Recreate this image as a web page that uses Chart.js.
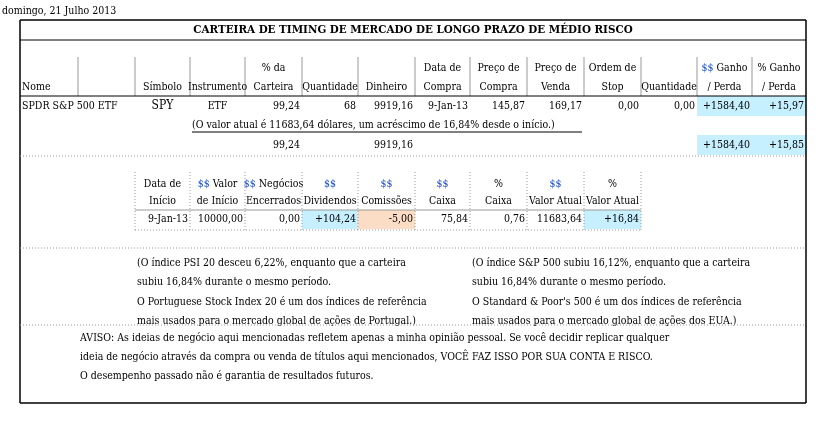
<!DOCTYPE html>
<html><head><meta charset="utf-8">
<script src="https://cdn.jsdelivr.net/npm/chart.js@4.4.0/dist/chart.umd.min.js"></script>
<style>html,body{margin:0;background:#fff}#wrap{width:831px;height:421px}</style>
</head><body><div id="wrap"><canvas id="graph1"></canvas></div>
<script>
// table content
var dateLine = 'domingo, 21 Julho 2013';
var title = 'CARTEIRA DE TIMING DE MERCADO DE LONGO PRAZO DE MÉDIO RISCO';
var headTop = ['', '', '', '', '% da', '', '', 'Data de', 'Preço de', 'Preço de', 'Ordem de', '', '$$ Ganho', '% Ganho'];
var headBottom = ['Nome', '', 'Símbolo', 'Instrumento', 'Carteira', 'Quantidade', 'Dinheiro', 'Compra', 'Compra', 'Venda', 'Stop', 'Quantidade', '/ Perda', '/ Perda'];
var row1 = ['SPDR S&P 500 ETF', '', 'SPY', 'ETF', '99,24', '68', '9919,16', '9-Jan-13', '145,87', '169,17', '0,00', '0,00', '+1584,40', '+15,97'];
var note1 = '(O valor atual é 11683,64 dólares, um acréscimo de 16,84% desde o início.)';
var row3 = ['', '', '', '', '99,24', '', '9919,16', '', '', '', '', '', '+1584,40', '+15,85'];
var head2Top = ['Data de', '$$ Valor', '$$ Negócios', '$$', '$$', '$$', '%', '$$', '%'];
var head2Bottom = ['Início', 'de Início', 'Encerrados', 'Dividendos', 'Comissões', 'Caixa', 'Caixa', 'Valor Atual', 'Valor Atual'];
var row2 = ['9-Jan-13', '10000,00', '0,00', '+104,24', '-5,00', '75,84', '0,76', '11683,64', '+16,84'];
var leftNote = ['(O índice PSI 20 desceu 6,22%, enquanto que a carteira', 'subiu 16,84% durante o mesmo período.', 'O Portuguese Stock Index 20 é um dos índices de referência', 'mais usados para o mercado global de ações de Portugal.)'];
var rightNote = ['(O índice S&P 500 subiu 16,12%, enquanto que a carteira', 'subiu 16,84% durante o mesmo período.', 'O Standard & Poor\'s 500 é um dos índices de referência', 'mais usados para o mercado global de ações dos EUA.)'];
var disclaimer = ['AVISO: As ideias de negócio aqui mencionadas refletem apenas a minha opinião pessoal. Se você decidir replicar qualquer', 'ideia de negócio através da compra ou venda de títulos aqui mencionados, VOCÊ FAZ ISSO POR SUA CONTA E RISCO.', 'O desempenho passado não é garantia de resultados futuros.'];

var colX = [20, 78, 135, 190, 245, 302, 358, 415, 470, 527, 584, 641, 697, 752, 806];
var FONT = '"DejaVu Serif Condensed", "DejaVu Serif", serif';

var tablePlugin = {
  id: 'table',
  afterDraw: function (chart) {
    var c = chart.ctx, sx = chart.scales.x, sy = chart.scales.y;
    function X(v) { return sx.getPixelForValue(v); }
    function Y(v) { return sy.getPixelForValue(v); }
    function line(x1, y1, x2, y2, col, w, dash) {
      c.save(); c.strokeStyle = col; c.lineWidth = w; c.setLineDash(dash || []);
      c.beginPath(); c.moveTo(X(x1), Y(y1)); c.lineTo(X(x2), Y(y2)); c.stroke(); c.restore();
    }
    function fill(x1, y1, x2, y2, col) { c.fillStyle = col; c.fillRect(X(x1), Y(y1), X(x2) - X(x1), Y(y2) - Y(y1)); }
    function text(s, x, y, align, size, bold) {
      c.font = (bold ? 'bold ' : '') + (size || 10.5) + 'px ' + FONT;
      c.textAlign = align || 'left'; c.textBaseline = 'middle';
      if (s.indexOf('$$') === 0) {
        var rest = s.slice(2), w1 = c.measureText('$$').width, w2 = c.measureText(rest).width;
        var start = align === 'center' ? X(x) - (w1 + w2) / 2 : align === 'right' ? X(x) - w1 - w2 : X(x);
        c.textAlign = 'left'; c.fillStyle = '#1f4fd0'; c.fillText('$$', start, Y(y));
        c.fillStyle = '#000'; c.fillText(rest, start + w1, Y(y)); return;
      }
      c.fillStyle = '#000'; c.fillText(s, X(x), Y(y));
    }
    function cell(s, i, y, nAlign) {
      if (!s) return;
      var num = /^[+\-]?[0-9]/.test(s);
      if (num || nAlign === 'right') text(s, colX[i + 1] - 2, y, 'right');
      else if (nAlign === 'left') text(s, colX[i] + 2, y, 'left');
      else text(s, (colX[i] + colX[i + 1]) / 2, y, 'center');
    }
    var dot = [1, 2], G = '#999';
    // highlights
    [[12, 96, 116], [13, 96, 116], [12, 135, 155], [13, 135, 155]].forEach(function (h) { fill(colX[h[0]], h[1], colX[h[0] + 1], h[2], '#c6efff'); });
    fill(colX[5], 210, colX[6], 229, '#c6efff'); fill(colX[6], 210, colX[7], 229, '#fbdcc5'); fill(colX[10], 210, colX[11], 229, '#c6efff');
    text(dateLine, 2, 11, 'left', 10.5);
    // outer box
    line(20, 20, 806, 20, '#000', 1.5); line(20, 403, 806, 403, '#000', 1.5);
    line(20, 20, 20, 403, '#000', 1.5); line(806, 20, 806, 403, '#000', 1.5);
    line(20, 40, 806, 40, '#000', 1);
    text(title, 413, 30, 'center', 11.5, true);
    // header grid
    for (var i = 1; i < colX.length - 1; i++) line(colX[i], 57, colX[i], 96, G, 1);
    line(20, 96, 806, 96, '#000', 1);
    for (i = 0; i < 14; i++) {
      if (i === 0) { text(headBottom[0], 22, 87, 'left'); continue; }
      cell(headTop[i], i, 68, 'center'); cell(headBottom[i], i, 87, 'center');
    }
    for (i = 0; i < 14; i++) { if (i === 0) text(row1[0], 22, 106, 'left'); else if (i === 2 || i === 3) text(row1[i], (colX[i] + colX[i + 1]) / 2, 106, 'center', i === 2 ? 12 : 10.5); else cell(row1[i], i, 106); }
    text(note1, 192, 125, 'left');
    line(192, 132, 582, 132, '#000', 1);
    for (i = 0; i < 14; i++) cell(row3[i], i, 145);
    line(20, 156, 806, 156, G, 1, dot);
    // second table
    for (i = 2; i < 12; i++) line(colX[i], 172, colX[i], 230, G, 1, dot);
    line(colX[2], 210, colX[11], 210, G, 1);
    line(colX[2], 230, colX[11], 230, G, 1, dot);
    for (i = 0; i < 9; i++) { cell(head2Top[i], i + 2, 184, 'center'); cell(head2Bottom[i], i + 2, 201, 'center'); cell(row2[i], i + 2, 219); }
    line(20, 248, 806, 248, G, 1, dot);
    leftNote.forEach(function (s, k) { text(s, colX[2] + 2, 263 + k * 19.5, 'left'); });
    rightNote.forEach(function (s, k) { text(s, colX[8] + 2, 263 + k * 19.5, 'left'); });
    line(20, 325, 806, 325, G, 1, dot);
    disclaimer.forEach(function (s, k) { text(s, colX[1] + 2, 338 + k * 19, 'left'); });
  }
};

function makeChart() {
  var ctx = document.getElementById('graph1').getContext('2d');
  new Chart(ctx, {
    type: 'scatter',
    data: { datasets: [{ data: [] }] },
    options: {
      responsive: true, maintainAspectRatio: false, animation: false,
      layout: { padding: 0 },
      plugins: { legend: { display: false }, tooltip: { enabled: false } },
      scales: {
        x: { type: 'linear', min: 0, max: 831, display: false },
        y: { type: 'linear', min: 0, max: 421, reverse: true, display: false }
      }
    },
    plugins: [tablePlugin]
  });
}
makeChart();
</script></body></html>
